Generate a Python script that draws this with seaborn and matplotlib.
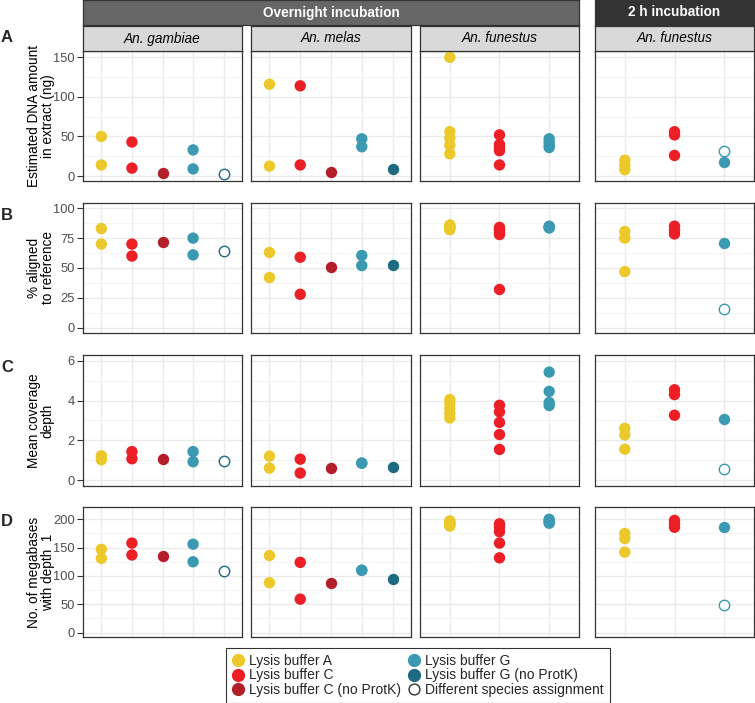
import numpy as np
import pandas as pd
import matplotlib
matplotlib.use('Agg')
import matplotlib.pyplot as plt
from matplotlib.lines import Line2D
from matplotlib.ticker import MultipleLocator
import seaborn as sns

sns.set_theme(style='white')
plt.rcParams['font.family'] = ['Liberation Sans', 'DejaVu Sans']

# ---- 数据 ----
BUF_A = 'Lysis buffer A'
BUF_C = 'Lysis buffer C'
BUF_CN = 'Lysis buffer C (no ProtK)'
BUF_G = 'Lysis buffer G'
BUF_GN = 'Lysis buffer G (no ProtK)'

# An. gambiae（过夜）
gam_buffer = [BUF_A, BUF_A, BUF_C, BUF_C, BUF_CN, BUF_G, BUF_G, BUF_GN]
gam_open = [False, False, False, False, False, False, False, True]
gam_dna = [50, 14, 43, 10, 4, 33, 9, 2.5]
gam_aligned = [83, 70, 70, 60, 71.5, 75, 61, 64]
gam_cov = [1.22, 1.02, 1.43, 1.07, 1.05, 1.43, 0.92, 0.98]
gam_mb = [147, 131, 158, 137, 136, 156, 125, 109]

# An. melas（过夜）
mel_buffer = [BUF_A, BUF_A, BUF_C, BUF_C, BUF_CN, BUF_G, BUF_G, BUF_GN]
mel_open = [False] * 8
mel_dna = [116, 12.5, 114, 14, 5, 47, 37, 9]
mel_aligned = [63, 42, 59, 28, 51, 60.5, 52, 52.5]
mel_cov = [1.2, 0.6, 1.05, 0.35, 0.62, 0.85, 0.85, 0.68]
mel_mb = [136, 88, 124, 59, 88, 110, 110, 94]

# An. funestus（过夜）
fun_buffer = [BUF_A] * 5 + [BUF_C] * 5 + [BUF_G] * 4
fun_open = [False] * 14
fun_dna = [150, 56, 48, 39, 28, 52, 40, 36, 32, 14, 47, 43, 39, 36]
fun_aligned = [86, 85, 84, 83, 82, 84, 82, 80, 78, 32, 85, 84.5, 84, 83.5]
fun_cov = [4.05, 3.85, 3.6, 3.35, 3.12, 3.76, 3.43, 2.9, 2.29, 1.54, 5.43, 4.46, 3.9, 3.75]
fun_mb = [197, 195, 192, 190, 188, 192, 186, 178, 158, 132, 200, 198, 195, 193]

# An. funestus（2 h）
f2_buffer = [BUF_A, BUF_A, BUF_A, BUF_C, BUF_C, BUF_C, BUF_G, BUF_G]
f2_open = [False, False, False, False, False, False, False, True]
f2_dna = [20, 14, 8, 56, 52, 26, 18, 31]
f2_aligned = [80.5, 75, 47, 85, 81.5, 78.5, 71, 16]
f2_cov = [2.6, 2.27, 1.55, 4.54, 4.3, 3.26, 3.07, 0.57]
f2_mb = [175, 166, 142, 198, 192, 186, 186, 49]

PALETTE = {BUF_A: '#EBC92B', BUF_C: '#EC1F26', BUF_CN: '#B31E2B',
           BUF_G: '#3B9AB2', BUF_GN: '#1E6A80'}
ORDER5 = [BUF_A, BUF_C, BUF_CN, BUF_G, BUF_GN]
ORDER3 = [BUF_A, BUF_C, BUF_G]


def make_df(buffers, is_open, dna, aligned, cov, mb):
    return pd.DataFrame({'buffer': buffers, 'open': is_open, 'dna': dna,
                         'aligned': aligned, 'cov': cov, 'mb': mb})


panels = [
    ('An. gambiae', make_df(gam_buffer, gam_open, gam_dna, gam_aligned, gam_cov, gam_mb), ORDER5),
    ('An. melas', make_df(mel_buffer, mel_open, mel_dna, mel_aligned, mel_cov, mel_mb), ORDER5),
    ('An. funestus', make_df(fun_buffer, fun_open, fun_dna, fun_aligned, fun_cov, fun_mb), ORDER3),
    ('An. funestus', make_df(f2_buffer, f2_open, f2_dna, f2_aligned, f2_cov, f2_mb), ORDER3),
]

metrics = [
    ('dna', 'Estimated DNA amount\nin extract (ng)', (-6.3, 158), 50, 'A'),
    ('aligned', '% aligned\nto reference', (-4.4, 104.4), 25, 'B'),
    ('cov', 'Mean coverage\ndepth', (-0.3, 6.29), 2, 'C'),
    ('mb', 'No. of megabases\nwith depth  1', (-7.8, 221.7), 50, 'D'),
]

# ---- 版式（像素坐标） ----
W, H = 755, 703
COLS = [(83, 242), (251, 411), (420, 579), (595, 754)]
ROWS = [(51, 181), (203, 333), (355, 486), (507, 637)]
LETTER_Y = [37, 216, 367, 521]
EDGE = '#333333'


def rect(x0, x1, y0, y1):
    return [x0 / W, 1 - y1 / H, (x1 - x0) / W, (y1 - y0) / H]


fig = plt.figure(figsize=(W / 100, H / 100), dpi=100)

for ri, (col, ylabel, ylim, major, letter) in enumerate(metrics):
    for ci, (species, df, order) in enumerate(panels):
        ax = fig.add_axes(rect(COLS[ci][0], COLS[ci][1], ROWS[ri][0], ROWS[ri][1]))
        ax.set_axisbelow(True)
        filled = df[~df['open']]
        sns.stripplot(data=filled, x='buffer', y=col, order=order, hue='buffer',
                      palette=PALETTE, jitter=False, size=8.2, linewidth=0,
                      legend=False, ax=ax, zorder=3)
        opened = df[df['open']]
        for b, sub in opened.groupby('buffer'):
            sns.stripplot(data=sub, x='buffer', y=col, order=order, color='white',
                          edgecolor=PALETTE[b], linewidth=1.0, jitter=False,
                          size=7.5, ax=ax, zorder=3)
        ax.set_xlim(-0.6, len(order) - 0.4)
        ax.set_ylim(*ylim)
        ax.yaxis.set_major_locator(MultipleLocator(major))
        ax.yaxis.set_minor_locator(MultipleLocator(major / 2))
        ax.xaxis.grid(True, which='major', color='#EBEBEB', lw=1.0)
        ax.yaxis.grid(True, which='major', color='#EBEBEB', lw=1.0)
        ax.yaxis.grid(True, which='minor', color='#F3F3F3', lw=0.6)
        ax.set_xlabel('')
        ax.set_xticklabels([])
        ax.tick_params(axis='x', length=0)
        for s in ax.spines.values():
            s.set_color(EDGE)
            s.set_linewidth(0.9)
        if ci == 0:
            ax.tick_params(axis='y', which='major', left=True, length=4, width=0.8,
                           color=EDGE, labelsize=9.3, labelcolor='#4D4D4D', pad=2)
            ax.tick_params(axis='y', which='minor', left=False)
            ax.set_ylabel(ylabel, fontsize=9.8, color='black', linespacing=1.0)
            ax.yaxis.set_label_coords(-0.265, 0.5)
            ax.yaxis.label.set_verticalalignment('center')
        else:
            ax.set_ylabel('')
            ax.tick_params(axis='y', which='both', left=False, labelleft=False)
    fig.text(7 / W, 1 - LETTER_Y[ri] / H, letter, fontsize=12, fontweight='bold',
             ha='center', va='center')

# ---- 分面标签 ----
def strip(x0, x1, y0, y1, text, face, color, style='normal', weight='normal'):
    sax = fig.add_axes(rect(x0, x1, y0, y1))
    sax.set_facecolor(face)
    sax.set_xticks([])
    sax.set_yticks([])
    for s in sax.spines.values():
        s.set_color(EDGE)
        s.set_linewidth(0.9)
    sax.text(0.5, 0.5, text, ha='center', va='center', color=color,
             fontsize=9.8, fontstyle=style, fontweight=weight, transform=sax.transAxes)


strip(83, 579, 0, 25, 'Overnight incubation', '#666666', 'white', weight='bold')
strip(595, 754, 0, 25, '2 h incubation', '#333333', 'white', weight='bold')
for ci, (species, df, order) in enumerate(panels):
    strip(COLS[ci][0], COLS[ci][1], 26, 51, species, '#D9D9D9', 'black', style='italic')

# ---- 图例 ----
handles = [Line2D([], [], marker='o', linestyle='', markersize=8.5,
                  markerfacecolor=PALETTE[b], markeredgecolor=PALETTE[b], label=b)
           for b in [BUF_A, BUF_C, BUF_CN, BUF_G, BUF_GN]]
handles.append(Line2D([], [], marker='o', linestyle='', markersize=7.8,
                      markerfacecolor='white', markeredgecolor='#333333',
                      markeredgewidth=1.0, label='Different species assignment'))
leg = fig.legend(handles=handles, ncol=2, loc='center',
                 bbox_to_anchor=(418 / W, 1 - 675.5 / H), fontsize=10,
                 frameon=True, fancybox=False, edgecolor='black',
                 handlelength=0.8, handletextpad=0.35, columnspacing=0.6,
                 labelspacing=0.05, borderpad=0.45, borderaxespad=0)
leg.get_frame().set_linewidth(0.8)

fig.savefig('out.png', dpi=100)
